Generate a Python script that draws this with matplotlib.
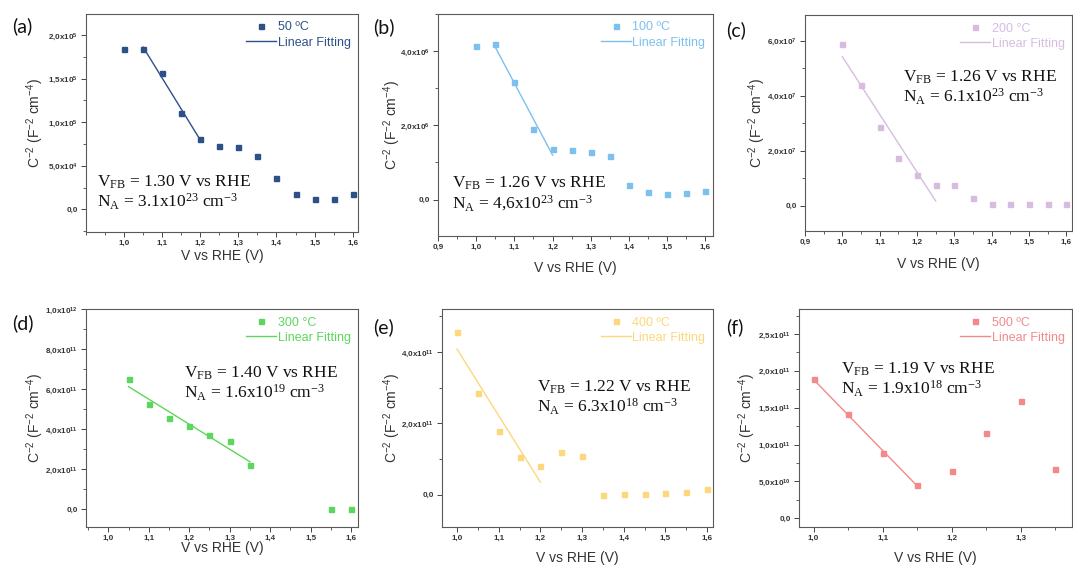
import numpy as np
import matplotlib
matplotlib.use("Agg")
import matplotlib.pyplot as plt
from matplotlib.ticker import MultipleLocator, FuncFormatter

plt.rcParams["font.family"] = ["Liberation Sans", "DejaVu Sans"]
plt.rcParams["mathtext.default"] = "regular"

# ---- Mott-Schottky data (C^-2 vs potential) ----
v_50 = [1.00, 1.05, 1.10, 1.15, 1.20, 1.25, 1.30, 1.35, 1.40, 1.45, 1.50, 1.55, 1.60]
c_50 = [1.84e5, 1.84e5, 1.56e5, 1.10e5, 8.1e4, 7.3e4, 7.2e4, 6.1e4, 3.55e4, 1.72e4, 1.2e4, 1.2e4, 1.8e4]

v_100 = [1.00, 1.05, 1.10, 1.15, 1.20, 1.25, 1.30, 1.35, 1.40, 1.45, 1.50, 1.55, 1.60]
c_100 = [4.14e6, 4.18e6, 3.16e6, 1.90e6, 1.37e6, 1.33e6, 1.29e6, 1.18e6, 0.40e6, 0.21e6, 0.16e6, 0.17e6, 0.22e6]

v_200 = [1.00, 1.05, 1.10, 1.15, 1.20, 1.25, 1.30, 1.35, 1.40, 1.45, 1.50, 1.55, 1.60]
c_200 = [5.89e7, 4.40e7, 2.87e7, 1.75e7, 1.10e7, 0.75e7, 0.75e7, 0.27e7, 0.07e7, 0.05e7, 0.05e7, 0.07e7, 0.07e7]

v_300 = [1.05, 1.10, 1.15, 1.20, 1.25, 1.30, 1.35, 1.55, 1.60]
c_300 = [6.49e11, 5.25e11, 4.55e11, 4.15e11, 3.68e11, 3.38e11, 2.18e11, 0.0, 0.0]

v_400 = [1.00, 1.05, 1.10, 1.15, 1.20, 1.25, 1.30, 1.35, 1.40, 1.45, 1.50, 1.55, 1.60]
c_400 = [4.57e11, 2.84e11, 1.80e11, 1.07e11, 0.80e11, 1.21e11, 1.09e11, 0.0, 0.03e11, 0.03e11, 0.05e11, 0.08e11, 0.17e11]

v_500 = [1.00, 1.05, 1.10, 1.15, 1.20, 1.25, 1.30, 1.35]
c_500 = [1.887e11, 1.411e11, 0.889e11, 0.454e11, 0.64e11, 1.152e11, 1.593e11, 0.672e11]

# fit windows (V) used for the linear region
fit_ranges = [(1.05, 1.20), (1.05, 1.20), (1.00, 1.25), (1.05, 1.35), (1.00, 1.20), (1.00, 1.15)]

temps = ["50 \u00baC", "100 \u00baC", "200 \u00b0C", "300 \u00b0C", "400 \u00baC", "500 \u00baC"]
letters = ["(a)", "(b)", "(c)", "(d)", "(e)", "(f)"]
vfb = ["1.30", "1.26", "1.26", "1.40", "1.22", "1.19"]
na = ["3.1x10$^{23}$", "4,6x10$^{23}$", "6.1x10$^{23}$", "1.6x10$^{19}$", "6.3x10$^{18}$", "1.9x10$^{18}$"]

colors = ["#2e5088", "#7cc1ee", "#d6bde0", "#5cd65c", "#fdd77c", "#f28a8a"]

volts = [v_50, v_100, v_200, v_300, v_400, v_500]
caps = [c_50, c_100, c_200, c_300, c_400, c_500]

# ---- layout (pixel boxes: x0, y0, x1, y1) ----
W, H = 1073, 565
boxes = [(86, 14, 358, 232), (438, 14, 713, 236), (805, 15, 1072, 231),
         (86, 309, 358, 527), (442, 309, 713, 527), (799, 309, 1072, 527)]
xlims = [(0.9, 1.614), (0.9, 1.62), (0.9, 1.615), (0.945, 1.617), (0.964, 1.614), (0.979, 1.374)]
ylims = [(-2.6e4, 2.24e5), (-0.98e6, 5.0e6), (-0.92e7, 6.93e7),
         (-0.9e11, 1.0e12), (-0.9e11, 5.2e11), (-0.12e11, 2.84e11)]
y_major = [5e4, 2e6, 2e7, 2e11, 2e11, 5e10]
x_start = [1.0, 0.9, 0.9, 1.0, 1.0, 1.0]
x_end = [1.6, 1.6, 1.6, 1.6, 1.6, 1.3]
text_pos = [(0.04, 0.18), (0.052, 0.19), (0.367, 0.663), (0.36, 0.657), (0.35, 0.592), (0.153, 0.677)]
# axis-label offsets in pixels from the axes edge
ylab_px = [-40, -35, -37, -40, -39, -41]
xlab_px = [-17, -25, -26, -14, -24, -24]
letter_pos = [(12, 26), (373, 27), (726, 30), (12, 323), (373, 327), (726, 327)]


def sci_fmt(v, pos):
    if abs(v) < 1e-30:
        return "0,0"
    e = int(np.floor(np.log10(abs(v)) + 1e-9))
    m = v / 10 ** e
    return ("%.1f" % m).replace(".", ",") + "x10$^{%d}$" % e


fig = plt.figure(figsize=(W / 100, H / 100), dpi=100)

for i in range(6):
    x0, y0, x1, y1 = boxes[i]
    ax = fig.add_axes([x0 / W, 1 - y1 / H, (x1 - x0) / W, (y1 - y0) / H])
    col = colors[i]
    v = np.array(volts[i])
    c = np.array(caps[i])

    ax.plot(v, c, "s", color=col, ms=3.6, mec=col, label=temps[i], zorder=3)

    lo, hi = fit_ranges[i]
    sel = (v >= lo - 1e-9) & (v <= hi + 1e-9)
    k, b = np.polyfit(v[sel], c[sel], 1)
    xf = np.array([lo, hi])
    ax.plot(xf, k * xf + b, "-", color=col, lw=1.0, label="Linear Fitting", zorder=2)

    ax.set_xlim(*xlims[i])
    ax.set_ylim(*ylims[i])
    ax.set_xticks(np.round(np.arange(x_start[i], x_end[i] + 1e-6, 0.1), 2))
    ax.xaxis.set_minor_locator(MultipleLocator(0.05))
    ax.xaxis.set_major_formatter(FuncFormatter(lambda t, p: ("%.1f" % t).replace(".", ",")))
    ax.yaxis.set_major_locator(MultipleLocator(y_major[i]))
    ax.yaxis.set_minor_locator(MultipleLocator(y_major[i] / 2))
    ax.yaxis.set_major_formatter(FuncFormatter(sci_fmt))

    for s in ax.spines.values():
        s.set_color("#5a5a5a")
        s.set_linewidth(0.8)
    ax.tick_params(which="major", direction="out", length=3.5, width=0.7, color="#444444",
                   labelsize=5.8, labelcolor="#333333", pad=2.5)
    ax.tick_params(which="minor", direction="out", length=2, width=0.6, color="#444444")
    for lab in ax.get_xticklabels() + ax.get_yticklabels():
        lab.set_fontweight("bold")

    ax.set_xlabel("V vs RHE (V)", fontsize=10, color="#333333")
    ax.set_ylabel("C$^{-2}$ (F$^{-2}$ cm$^{-4}$)", fontsize=10, color="#333333")
    ax.yaxis.set_label_coords(ylab_px[i] / (x1 - x0), 0.5)
    ax.xaxis.set_label_coords(0.5, xlab_px[i] / (y1 - y0))

    ax.legend(loc="upper right", frameon=False, fontsize=9, handlelength=2.4,
              handletextpad=0.1, labelspacing=0.25, borderaxespad=0.4,
              borderpad=0.2, labelcolor=col)

    tx, ty = text_pos[i]
    ax.text(tx, ty, "$V_{FB}$ = %s V vs RHE\n$N_{A}$ = %s cm$^{-3}$" % (vfb[i], na[i]),
            transform=ax.transAxes, ha="left", va="center", fontsize=12.5,
            family=["Liberation Serif", "DejaVu Serif"], color="#111111", linespacing=1.05)

    lx, ly = letter_pos[i]
    fig.text(lx / W, 1 - ly / H, letters[i], fontsize=14, family=["Lato", "DejaVu Sans"],
             ha="left", va="center", color="#111111")

fig.savefig("out.png", dpi=100, facecolor="white")
